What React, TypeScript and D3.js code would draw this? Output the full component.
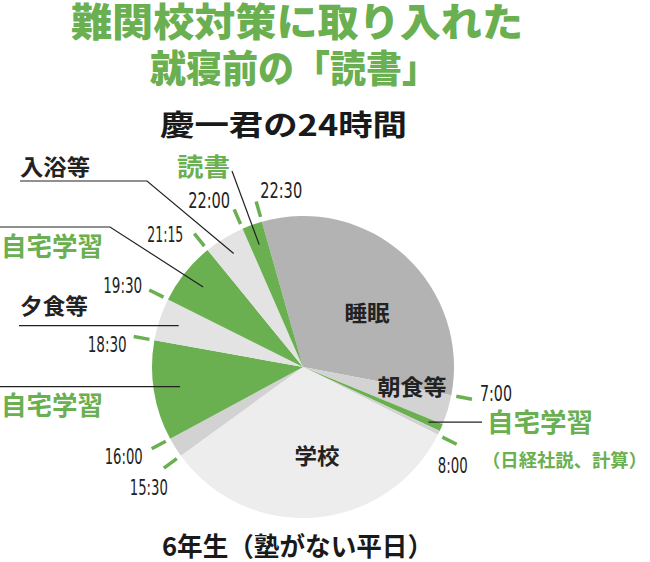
import React from "react";
import * as d3 from "d3";

// ---- data ----
const segmentNames = ["睡眠", "朝食等", "自宅学習", "移動", "学校", "移動", "自宅学習", "夕食等", "自宅学習", "入浴等", "読書"];
// share of the 24h dial, in degrees, as drawn in the reference
const segmentShares = [116.6, 11.5, 2.8, 1.6, 117.3, 7.6, 38.6, 16.4, 24.2, 15.6, 7.8];
const segmentKinds = ["sleep", "breakfast", "study", "other", "school", "other", "study", "meal", "study", "meal", "study"];
const dialStartDeg = -15.8; // 22:30 boundary

const tickTimes = ["7:00", "8:00", "15:30", "16:00", "18:30", "19:30", "21:15", "22:00", "22:30"];
const tickAfterSegment = [0, 3, 4, 5, 6, 7, 8, 9, 10];

const titleLines = ["難関校対策に取り入れた", "就寝前の「読書」"];
const subtitle = "慶一君の24時間";
const footnote = "6年生（塾がない平日）";
const noteText = "（日経社説、計算）";

// ---- layout ----
const W = 650, H = 562, CX = 303, CY = 367, R = 151;
const GREEN = "#6aaf50";
const kindColor: Record<string, string> = {
  sleep: "#b3b3b3",
  breakfast: "#d3d3d3",
  other: "#d2d2d2",
  school: "#ededed",
  meal: "#e3e3e3",
  study: GREEN,
};
const JP = "'Noto Sans CJK JP', 'Noto Sans', sans-serif";
const NARROW = "'Liberation Sans Narrow', 'DejaVu Sans Condensed', 'Roboto', sans-serif";

const tickLabelLayout = [
  { anchor: "start", dx: 8, dy: 2, len: 32 },
  { anchor: "middle", dx: -4, dy: 29, len: 30 },
  { anchor: "end", dx: 4, dy: 27, len: 38 },
  { anchor: "end", dx: -9, dy: 15, len: 38 },
  { anchor: "end", dx: -7, dy: 15, len: 39 },
  { anchor: "end", dx: -7, dy: 3, len: 39 },
  { anchor: "end", dx: -11, dy: 8, len: 36 },
  { anchor: "end", dx: -4, dy: -1, len: 42 },
  { anchor: "start", dx: 4, dy: -3, len: 42 },
];

// callouts: segment index, radius of the pointer end, path start / elbow, text
const callouts = [
  { seg: 9, r: 133, from: [20, 181], elbow: [147, 181], text: "入浴等", color: "#222", tx: 20, ty: 175, size: 22, len: 70 },
  { seg: 10, r: 130, from: [232, 171], elbow: null, text: "読書", color: GREEN, tx: 177, ty: 176, size: 25, len: 53 },
  { seg: 8, r: 128, from: [0, 227], elbow: [110, 227], text: "自宅学習", color: GREEN, tx: 1, ty: 256, size: 26, len: 102 },
  { seg: 7, r: 131, from: [19, null], elbow: null, text: "夕食等", color: "#222", tx: 20, ty: 314, size: 22, len: 68 },
  { seg: 6, r: 124.5, from: [0, null], elbow: null, text: "自宅学習", color: GREEN, tx: 1, ty: 415, size: 26, len: 102 },
  { seg: 2, r: 137, from: [482, null], elbow: null, text: "自宅学習", color: GREEN, tx: 487, ty: 432, size: 26, len: 106 },
];

const insideLabels = [
  { seg: 0, text: "睡眠", x: 367, y: 321, len: 45 },
  { seg: 1, text: "朝食等", x: 412, y: 395, len: 69 },
  { seg: 4, text: "学校", x: 317, y: 464, len: 45 },
];

const polar = (a: number, r: number): [number, number] => [CX + r * Math.sin(a), CY - r * Math.cos(a)];

export default function App() {
  const start = (dialStartDeg * Math.PI) / 180;
  const pie = d3
    .pie<number>()
    .sort(null)
    .value((d) => d)
    .startAngle(start)
    .endAngle(start + 2 * Math.PI);
  const arcs = pie(segmentShares);
  const arc = d3.arc<d3.PieArcDatum<number>>().innerRadius(0).outerRadius(R);
  const mid = (i: number) => (arcs[i].startAngle + arcs[i].endAngle) / 2;

  return (
    <svg width={W} height={H} style={{ position: "absolute", left: 0, top: 0, background: "#fff" }}>
      {/* title */}
      <text x={71} y={36} fontFamily={JP} fontWeight={900} fontSize={39} fill={GREEN} textLength={452} lengthAdjust="spacingAndGlyphs">
        {titleLines[0]}
      </text>
      <text x={150} y={82} fontFamily={JP} fontWeight={900} fontSize={38} fill={GREEN} textLength={288} lengthAdjust="spacingAndGlyphs">
        {titleLines[1]}
      </text>
      <text x={160} y={136} fontFamily={JP} fontWeight={700} fontSize={29} fill="#1a1a1a" textLength={247} lengthAdjust="spacingAndGlyphs">
        {subtitle}
      </text>

      {/* pie */}
      <g transform={`translate(${CX},${CY})`}>
        {arcs.map((a, i) => (
          <path key={i} d={arc(a) || ""} fill={kindColor[segmentKinds[i]]} />
        ))}
      </g>

      {/* ticks and time labels */}
      {tickTimes.map((t, k) => {
        const a = arcs[tickAfterSegment[k]].endAngle;
        const [x1, y1] = polar(a, 156);
        const [x2, y2] = polar(a, 172);
        const L = tickLabelLayout[k];
        return (
          <g key={t}>
            <line x1={x1} y1={y1} x2={x2} y2={y2} stroke={GREEN} strokeWidth={3.5} />
            <text
              x={x2 + L.dx}
              y={y2 + L.dy}
              textAnchor={L.anchor as any}
              fontFamily={NARROW}
              fontSize={22}
              fill="#222"
              textLength={L.len}
              lengthAdjust="spacingAndGlyphs"
            >
              {t}
            </text>
          </g>
        );
      })}

      {/* callouts */}
      {callouts.map((c, i) => {
        const [ex, ey] = polar(mid(c.seg), c.r);
        const fx = c.from[0] as number;
        const fy = (c.from[1] as number | null) ?? ey;
        const pts: [number, number][] = [[fx, fy]];
        if (c.elbow) pts.push(c.elbow as [number, number]);
        pts.push([ex, ey]);
        return (
          <g key={i}>
            <path d={d3.line()(pts) || ""} fill="none" stroke="#222" strokeWidth={1.2} />
            <text x={c.tx} y={c.ty} fontFamily={JP} fontWeight={700} fontSize={c.size} fill={c.color} textLength={c.len} lengthAdjust="spacingAndGlyphs">
              {c.text}
            </text>
          </g>
        );
      })}
      <text x={482} y={467} fontFamily={JP} fontWeight={700} fontSize={18} fill={GREEN} textLength={165} lengthAdjust="spacingAndGlyphs">
        {noteText}
      </text>

      {insideLabels.map((l, i) => (
        <text key={i} x={l.x} y={l.y} textAnchor="middle" fontFamily={JP} fontWeight={700} fontSize={22} fill="#222" textLength={l.len} lengthAdjust="spacingAndGlyphs">
          {l.text}
        </text>
      ))}

      {/* footnote */}
      <text x={162} y={556} fontFamily={JP} fontWeight={700} fontSize={26} fill="#1a1a1a" textLength={271} lengthAdjust="spacingAndGlyphs">
        {footnote}
      </text>
    </svg>
  );
}
